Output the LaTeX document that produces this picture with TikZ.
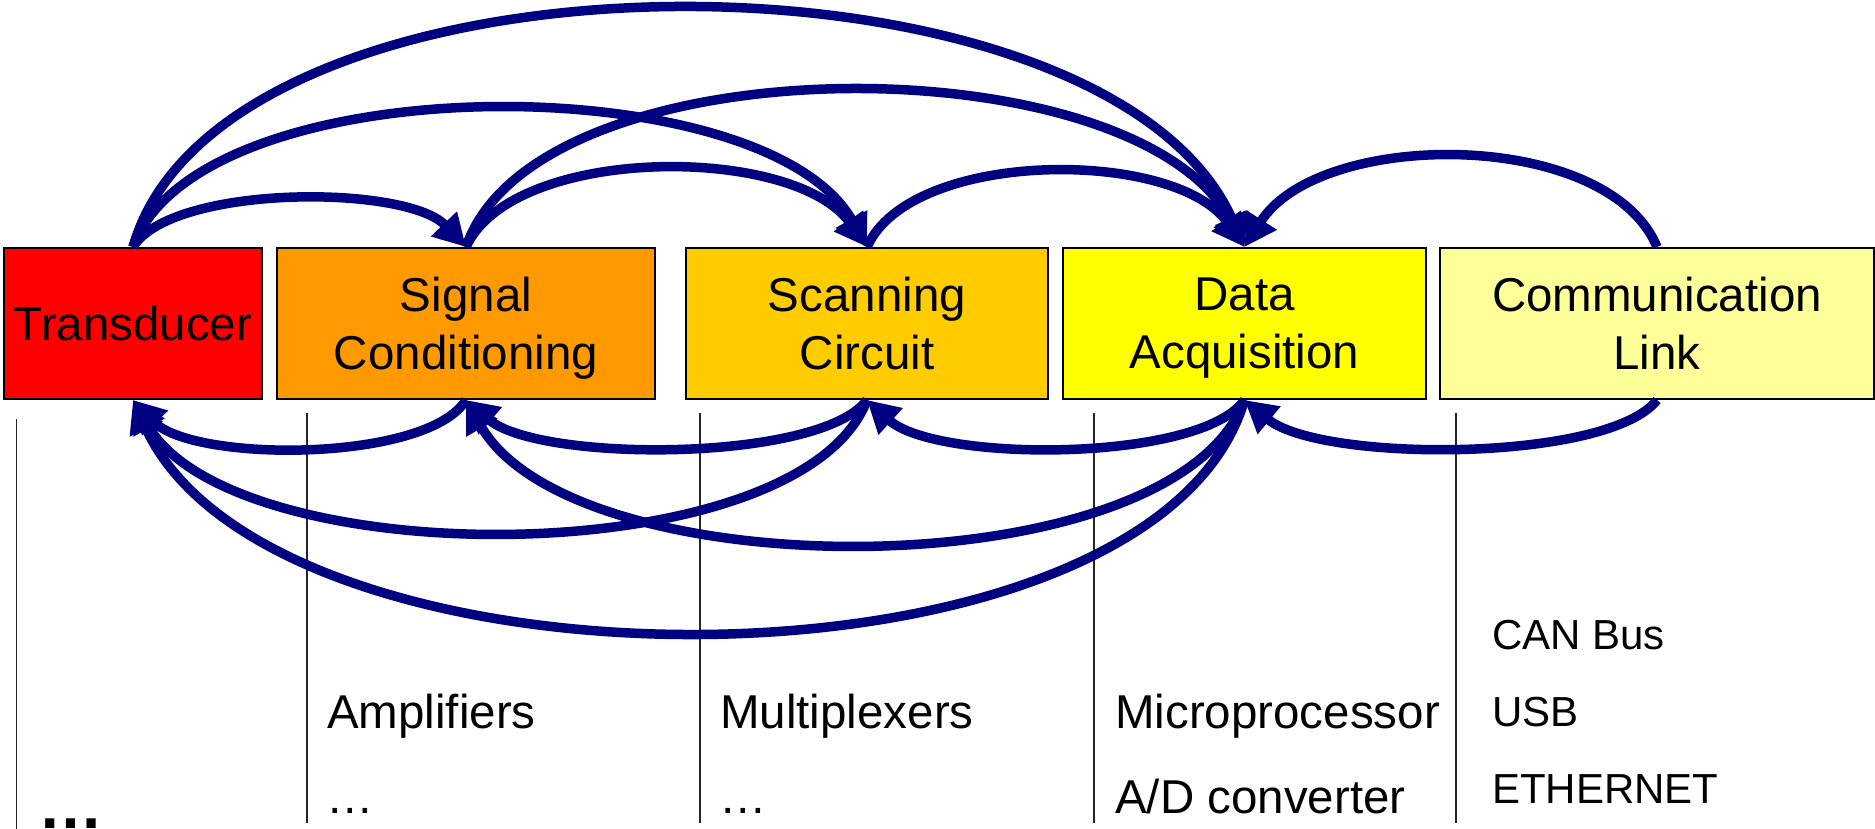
\documentclass[tikz,border=0pt]{standalone}
\usepackage{fontspec}
\setmainfont{Liberation Sans}
\usetikzlibrary{arrows.meta}
\definecolor{arrowblue}{HTML}{000080}
\definecolor{cT}{HTML}{FF0000}
\definecolor{cSC}{HTML}{FF9900}
\definecolor{cScan}{HTML}{FFCC00}
\definecolor{cDA}{HTML}{FFFF00}
\definecolor{cCL}{HTML}{FFFF99}
\begin{document}
\begin{tikzpicture}[x=1pt,y=-1pt,
  stage/.style={draw=black, line width=2pt, minimum height=151pt, inner sep=0pt, align=center, text depth=0pt, font=\fontsize{47.5pt}{58pt}\selectfont},
  flow/.style={draw=arrowblue, line width=9.5pt, -{Triangle[length=32pt,width=34pt]}},
  item/.style={anchor=base west, inner sep=0pt, font=\fontsize{47.5pt}{57pt}\selectfont},
  smallitem/.style={anchor=base west, inner sep=0pt, font=\fontsize{42pt}{50pt}\selectfont},
  sep/.style={draw=black!85, line width=1.8pt}
]
\fill[white] (0,0) rectangle (1875,829);
\useasboundingbox (0,0) rectangle (1875,829);

% stages
\node[stage, fill=cT, minimum width=258pt] (T) at (133,323.5) {Transducer};
\node[stage, fill=cSC, minimum width=378pt] (SC) at (466,323.5) {Signal\\Conditioning};
\node[stage, fill=cScan, minimum width=362pt] (SCAN) at (867,323.5) {Scanning\\Circuit};
\node[stage, fill=cDA, minimum width=363pt] (DA) at (1244.5,323.5) {Data\\Acquisition};
\node[stage, fill=cCL, minimum width=434pt] (CL) at (1657,323.5) {Communication\\Link};

% separators
\draw[sep] (16.5,419) -- (16.5,829);
\draw[sep] (307,413) -- (307,823);
\draw[sep] (700,413) -- (700,823);
\draw[sep] (1094,413) -- (1094,823);
\draw[sep] (1456,413) -- (1456,823);

% forward arcs (top)
\draw[flow] (T.north) .. controls +(39,-62.7) and +(-60,-62.7) .. (SC.north);
\draw[flow] (T.north) .. controls +(66,-182.7) and +(-102,-182.7) .. (SCAN.north);
\draw[flow] (T.north) .. controls +(90,-316) and +(-140,-316) .. (DA.north);
\draw[flow] (SC.north) .. controls +(47,-102.7) and +(-73,-102.7) .. (SCAN.north);
\draw[flow] (SC.north) .. controls +(70,-206.7) and +(-109,-206.7) .. (DA.north);
\draw[flow] (SCAN.north) .. controls +(44,-98.7) and +(-69,-98.7) .. (DA.north);
\draw[flow] (CL.north) .. controls +(-49,-118.7) and +(76,-118.7) .. (DA.north);

% backward arcs (bottom)
\draw[flow] (SC.south) .. controls +(-39,62.7) and +(60,62.7) .. (T.south);
\draw[flow] (SCAN.south) .. controls +(-66,174.7) and +(102,174.7) .. (T.south);
\draw[flow] (DA.south) .. controls +(-90,308) and +(140,308) .. (T.south);
\draw[flow] (SCAN.south) .. controls +(-47,62.7) and +(73,62.7) .. (SC.south);
\draw[flow] (DA.south) .. controls +(-70,190.7) and +(109,190.7) .. (SC.south);
\draw[flow] (DA.south) .. controls +(-44,62.7) and +(69,62.7) .. (SCAN.south);
\draw[flow] (CL.south) .. controls +(-49,62.7) and +(76,62.7) .. (DA.south);

% examples
\node[anchor=base west, inner sep=0pt, font=\fontsize{65pt}{70pt}\selectfont\bfseries] (tdots) at (38,828) {…};
\node[item] (amp) at (327,728) {Amplifiers};
\node[item] (ampdots) at (326,813) {…};
\node[item] (mux) at (720,728) {Multiplexers};
\node[item] (muxdots) at (719,813) {…};
\node[item] (mpu) at (1115,728) {Microprocessor};
\node[item] (adc) at (1115,813) {A/D converter};
\node[smallitem] (can) at (1492,649) {CAN Bus};
\node[smallitem] (usb) at (1492,726) {USB};
\node[smallitem] (eth) at (1492,803) {ETHERNET};
\end{tikzpicture}
\end{document}
